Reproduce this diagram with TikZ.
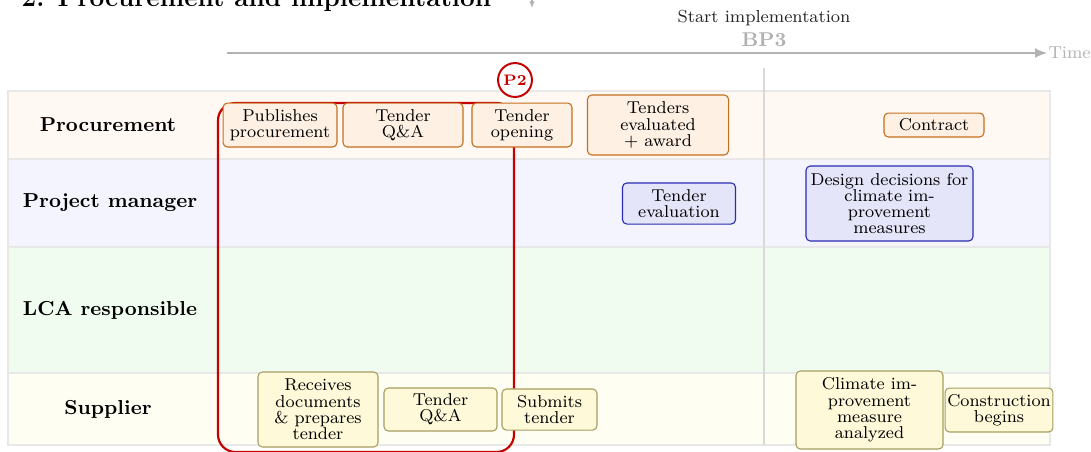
\documentclass[tikz,border=0pt]{standalone}
\usetikzlibrary{shapes,calc,arrows.meta}
\definecolor{proclane}{HTML}{FFF8F3}
\definecolor{pmlane}{HTML}{F4F4FE}
\definecolor{lcalane}{HTML}{F1FCF1}
\definecolor{suplane}{HTML}{FEFEF2}
\definecolor{laneline}{HTML}{E8E8E8}
\definecolor{procfill}{HTML}{FEF0E3}
\definecolor{procline}{HTML}{C4701E}
\definecolor{pmfill}{HTML}{E5E5FA}
\definecolor{pmline}{HTML}{2B2BB3}
\definecolor{supfill}{HTML}{FEFAD9}
\definecolor{supline}{HTML}{A59D60}
\definecolor{ptwored}{HTML}{C40000}
\definecolor{timegray}{HTML}{B2B2B2}

\begin{document}
\begin{tikzpicture}
	[x=0.46pt,y=-0.46pt,
	every node/.style={inner sep=1pt},
	box/.style={draw,rounded corners=2pt,align=center,line width=0.5pt,
		font=\fontsize{7.9}{7.5}\selectfont},
	procbox/.style={box,fill=procfill,draw=procline},
	pmbox/.style={box,fill=pmfill,draw=pmline},
	supbox/.style={box,fill=supfill,draw=supline},
	lanelabel/.style={font=\fontsize{9.3}{11}\selectfont\bfseries},
	timeline/.style={draw=timegray,line width=0.7pt,-{Latex[length=5.5pt,width=4.5pt]}}]
	\useasboundingbox (0,0) rectangle (1091,451);
	
	\node[anchor=base west,font=\fontsize{12}{14}\selectfont\bfseries] (title) at (19,6)
	{2. Procurement and implementation};
	\coordinate (tickstart) at (532,-8);
	\coordinate (tickend) at (532,8);
	\draw[draw=timegray,line width=0.5pt,-{Latex[length=3pt,width=2.5pt]}] (tickstart) -- (tickend);
	
	\foreach \yTop/\yBot/\laneCol in {91/159/proclane,159/247/pmlane,247/373/lcalane,373/445/suplane}
	{
		\draw[draw=laneline,fill=\laneCol,line width=0.5pt] (8,\yTop) rectangle (1050,\yBot);
	}
	\node[lanelabel] (lproc) at (108,125) {Procurement};
	\node[lanelabel] (lpm) at (110,203) {Project manager};
	\node[lanelabel] (llca) at (110,310) {LCA responsible};
	\node[lanelabel] (lsup) at (108,409) {Supplier};
	
	\node[font=\footnotesize,text=black!85] (start) at (764,18) {Start implementation};
	\node[font=\fontsize{9.2}{11}\selectfont\bfseries,text=timegray] (bp3) at (764,40) {BP3};
	\coordinate (tstart) at (227,53);
	\node[anchor=west,font=\footnotesize,text=timegray,inner sep=0.5pt] (time) at (1047,53) {Time};
	\draw[timeline] (tstart) -- (time.west);
	\draw[draw=black!15,line width=0.8pt] (764,68) -- (764,445);
	
	\draw[draw=ptwored,line width=1pt,rounded corners=8pt] (218,103) rectangle (514,452);
	\node[circle,draw=ptwored,line width=0.9pt,text=ptwored,font=\scriptsize\bfseries,
		minimum size=15.6pt,inner sep=0pt,fill=white] (ptwo) at (515,80) {P2};
	
	\node[procbox,minimum width=52.4pt,minimum height=20.2pt] (pub) at (280,125) {Publishes\\procurement};
	\node[procbox,minimum width=55.2pt,minimum height=20.2pt] (pqa) at (403,125) {Tender\\Q\&A};
	\node[procbox,minimum width=46pt,minimum height=20.2pt] (open) at (522,125) {Tender\\opening};
	\node[procbox,minimum width=64.9pt,minimum height=27.6pt] (award) at (658,125) {Tenders\\evaluated\\+ award};
	\node[procbox,minimum width=46pt,minimum height=11pt] (contract) at (934,125) {Contract};
	
	\node[pmbox,minimum width=52pt,minimum height=18.9pt] (eval) at (679,203.5) {Tender\\evaluation};
	\node[pmbox,minimum width=76.8pt,minimum height=34.5pt] (design) at (889.5,203.5)
	{Design decisions for\\climate im-\\provement\\measures};
	
	\node[supbox,minimum width=55.2pt,minimum height=34.5pt] (receive) at (318,409.5)
	{Receives\\documents\\\& prepares\\tender};
	\node[supbox,minimum width=52pt,minimum height=19.8pt] (sqa) at (440.5,409.5) {Tender\\Q\&A};
	\node[supbox,minimum width=43.7pt,minimum height=18.9pt] (submit) at (549.5,409.5) {Submits\\tender};
	\node[supbox,minimum width=67.6pt,minimum height=35.9pt] (climate) at (869.5,410)
	{Climate im-\\provement\\measure\\analyzed};
	\node[supbox,minimum width=48.8pt,minimum height=20.2pt] (build) at (999,410) {Construction\\begins};
\end{tikzpicture}
\end{document}
